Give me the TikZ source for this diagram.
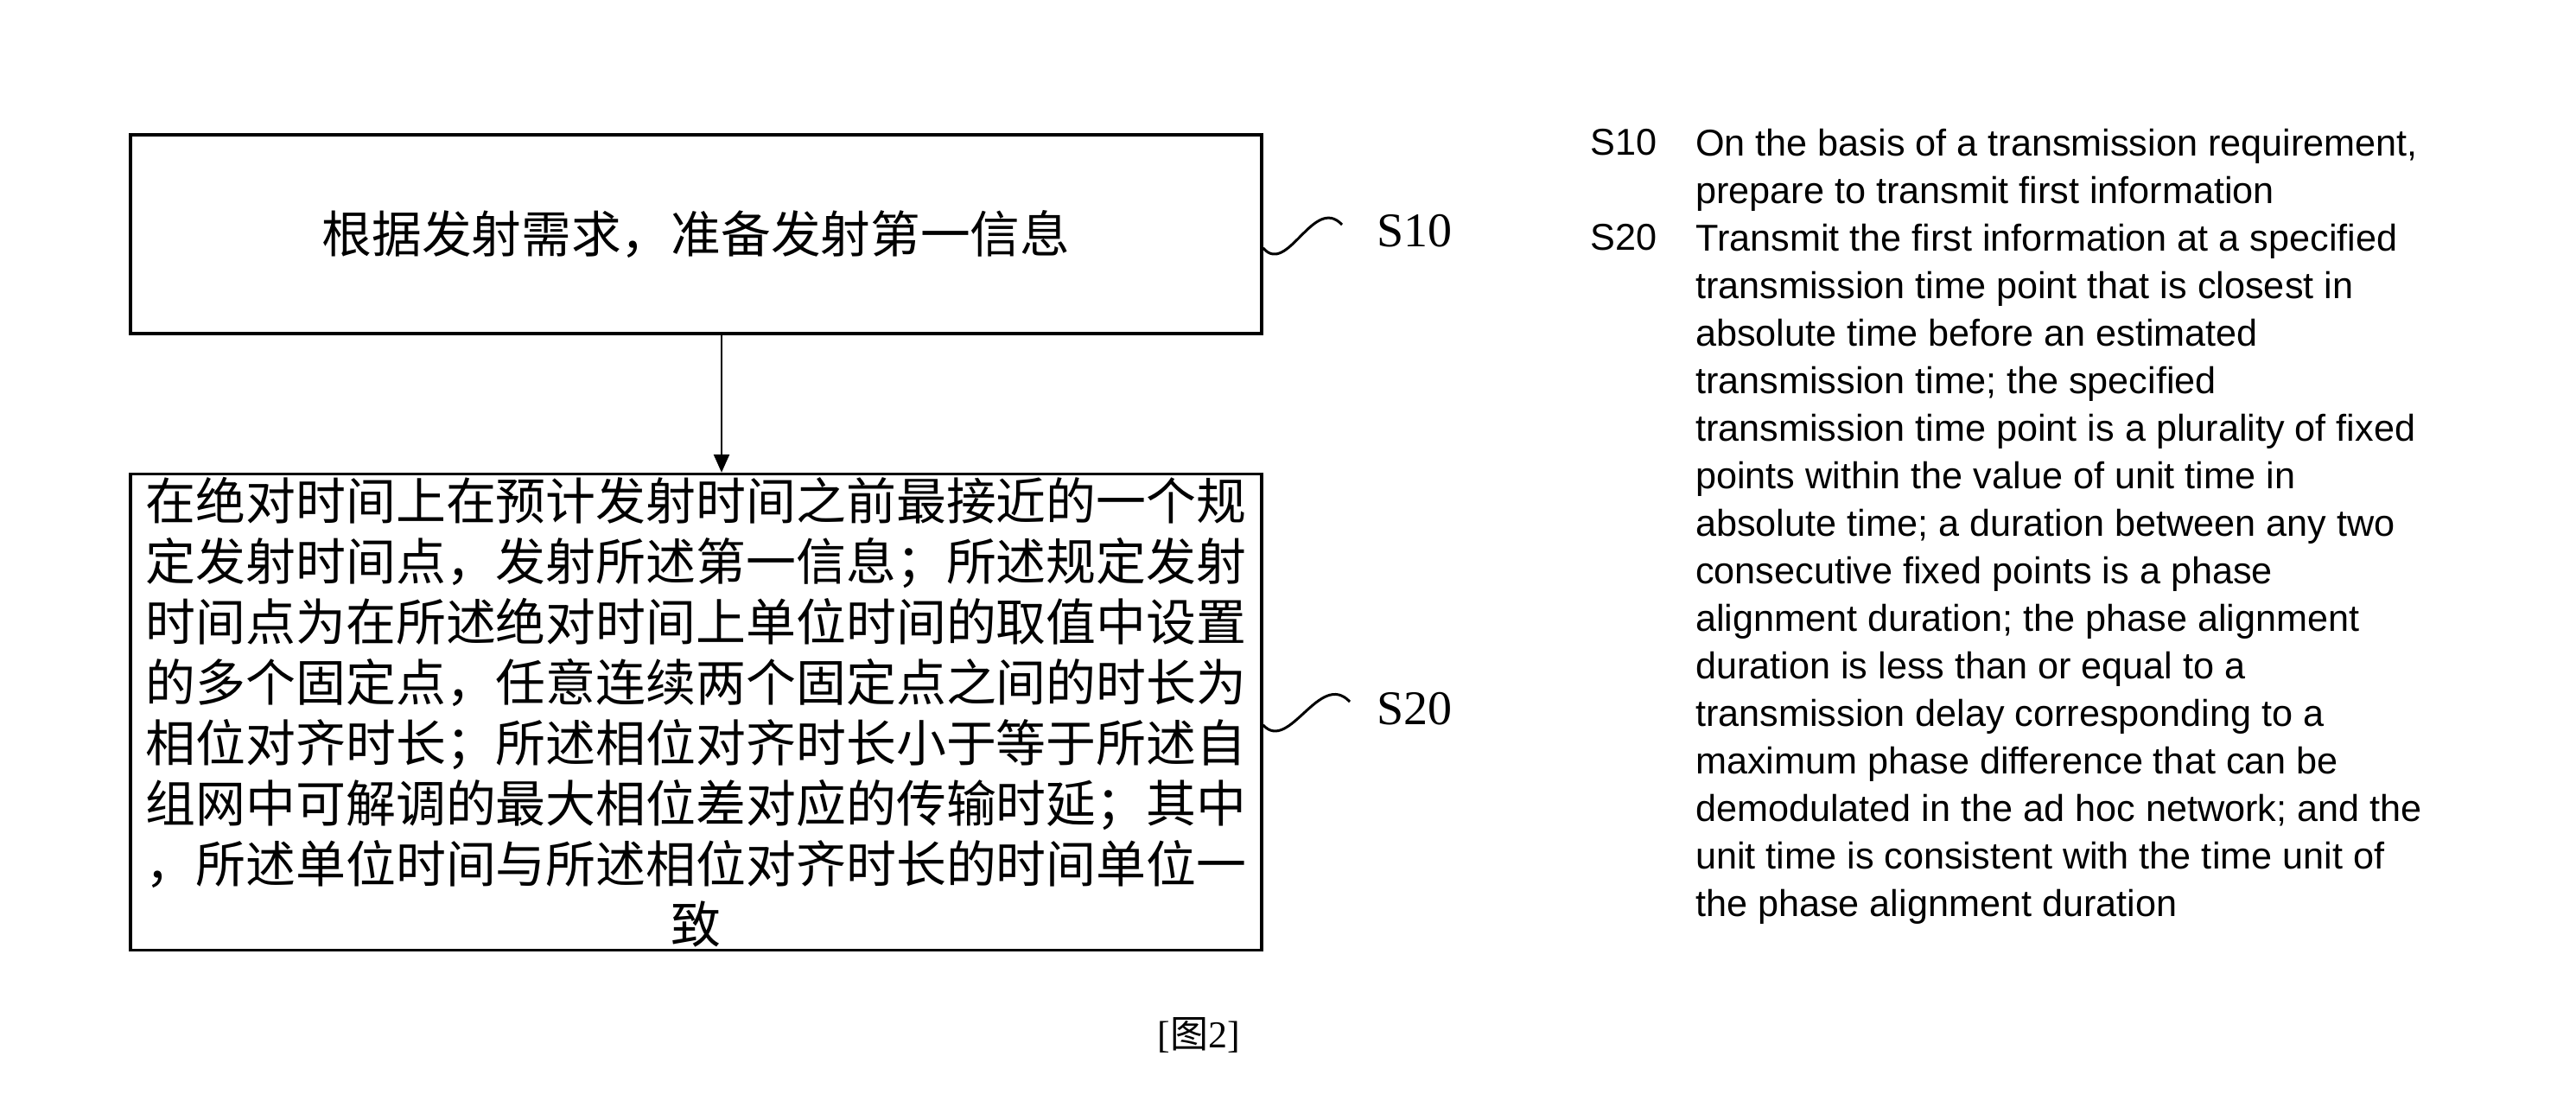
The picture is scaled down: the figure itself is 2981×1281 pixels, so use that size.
\documentclass[tikz,border=0pt]{standalone}
\usepackage{fontspec}
\setmainfont{Liberation Serif}
\newfontfamily\cjk{Noto Sans CJK SC}
\newfontfamily\ensans{Liberation Sans}
\usetikzlibrary{arrows.meta}
\begin{document}
\begin{tikzpicture}[x=1pt,y=-1pt,
  box/.style={draw, line width=3.4pt, inner sep=0pt},
  wave/.style={line width=3pt},
  arr/.style={line width=2.6pt, -{Triangle[length=21pt,width=18pt]}},
  steplab/.style={inner sep=0pt, font=\fontsize{56}{60}\selectfont},
  desc/.style={inner sep=0pt, font=\ensans\fontsize{43.2}{55}\selectfont},
  desctext/.style={desc, anchor=north west, align=left}]
\path[fill=white,use as bounding box] (0,0) rectangle (2981,1281);

\node[box, minimum width=1309pt, minimum height=230pt,
  font=\cjk\fontsize{57.7}{70}\selectfont] (b1) at (805.5,271)
  {根据发射需求，准备发射第一信息};

\node[box, minimum width=1309pt, minimum height=551pt, align=center,
  font=\cjk\fontsize{57.9}{70}\selectfont] (b2) at (805.5,824)
  {在绝对时间上在预计发射时间之前最接近的一个规\\
   定发射时间点，发射所述第一信息；所述规定发射\\
   时间点为在所述绝对时间上单位时间的取值中设置\\
   的多个固定点，任意连续两个固定点之间的时长为\\
   相位对齐时长；所述相位对齐时长小于等于所述自\\
   组网中可解调的最大相位差对应的传输时延；其中\\
   ，所述单位时间与所述相位对齐时长的时间单位一\\
   致};

\draw[arr] ([xshift=29.5pt]b1.south) -- ([xshift=29.5pt]b2.north);

\node[steplab] (s10) at (1637,267) {S10};
\node[steplab] (s20) at (1637,820) {S20};

\coordinate (w1e) at (1553,260);
\coordinate (w2e) at (1562,812);
\draw[wave] ([yshift=-16pt]b1.east) .. controls (1490,320) and (1520,225) .. (w1e);
\draw[wave] ([yshift=-15pt]b2.east) .. controls (1492,872) and (1527,775) .. (w2e);

\node[desc, anchor=base west] (r10) at (1840,180) {S10};
\node[desctext] (t10) at (1962,145)
  {\rule{0pt}{35pt}On the basis of a transmission requirement,\\
   prepare to transmit first information};
\node[desc, anchor=base west] (r20) at (1840,290) {S20};
\node[desctext] (t20) at (1962,255)
  {\rule{0pt}{35pt}Transmit the first information at a specified\\
   transmission time point that is closest in\\
   absolute time before an estimated\\
   transmission time; the specified\\
   transmission time point is a plurality of fixed\\
   points within the value of unit time in\\
   absolute time; a duration between any two\\
   consecutive fixed points is a phase\\
   alignment duration; the phase alignment\\
   duration is less than or equal to a\\
   transmission delay corresponding to a\\
   maximum phase difference that can be\\
   demodulated in the ad hoc network; and the\\
   unit time is consistent with the time unit of\\
   the phase alignment duration};

\node[inner sep=0pt, font=\fontsize{44}{50}\selectfont] (cap) at (1387,1198) {[{\cjk 图}2]};
\end{tikzpicture}
\end{document}
